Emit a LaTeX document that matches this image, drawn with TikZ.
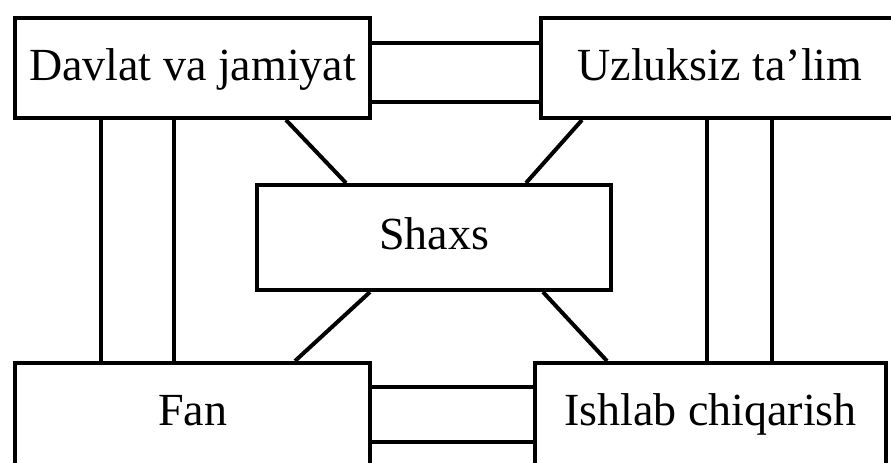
\documentclass[tikz,border=0pt]{standalone}
\usepackage{fontspec}
\setmainfont{Liberation Serif}
\usepackage{tikz}
\usetikzlibrary{positioning}

\begin{document}
\begin{tikzpicture}[node distance=2cm,on grid,
    box/.style={draw,line width=1pt,inner sep=0pt,minimum width=88.75pt,minimum height=25pt,
      text height=8.5pt,text depth=2.5pt,font=\fontsize{11.5}{14}\selectfont},
    lowbox/.style={box,minimum height=27pt,text depth=4.5pt},
    link/.style={line width=1pt}]
    \clip (0,0) rectangle (222.75pt,-115.5pt);
    \node[box] (dav) at (48.125pt,-17pt) {Davlat va jamiyat};
    \node[box,minimum width=89.5pt] (uz) [right=131.875pt of dav] {Uzluksiz ta'lim};
    \node[box,minimum width=88.5pt,minimum height=26.25pt] (sh) [below right=42.375pt and 60.375pt of dav] {Shaxs};
    \node[lowbox] (fan) [below=87.25pt of dav] {Fan};
    \node[lowbox,minimum width=87.75pt] (ish) [right=129.5pt of fan] {Ishlab chiqarish};
    \path[link]
    ([yshift=6.25pt]dav.east) edge ([yshift=6.25pt]dav.east -| uz.west)
    ([yshift=-8.5pt]dav.east) edge ([yshift=-8.5pt]dav.east -| uz.west)
    ([yshift=7.5pt]fan.east) edge ([yshift=7.5pt]fan.east -| ish.west)
    ([yshift=-6.25pt]fan.east) edge ([yshift=-6.25pt]fan.east -| ish.west)
    ([xshift=22pt]dav.south west) edge ([xshift=22pt]dav.south west |- fan.north)
    ([xshift=40.25pt]dav.south west) edge ([xshift=40.25pt]dav.south west |- fan.north)
    ([xshift=42pt]uz.south west) edge ([xshift=42pt]uz.south west |- ish.north)
    ([xshift=58.25pt]uz.south west) edge ([xshift=58.25pt]uz.south west |- ish.north)
    ([xshift=68.25pt]dav.south west) edge ([xshift=22.75pt]sh.north west)
    ([xshift=10.75pt]uz.south west) edge ([xshift=-21.75pt]sh.north east)
    ([xshift=28.75pt]sh.south west) edge ([xshift=70.5pt]fan.north west)
    ([xshift=-17.5pt]sh.south east) edge ([xshift=18.5pt]ish.north west)
    ;
\end{tikzpicture}
\end{document}
